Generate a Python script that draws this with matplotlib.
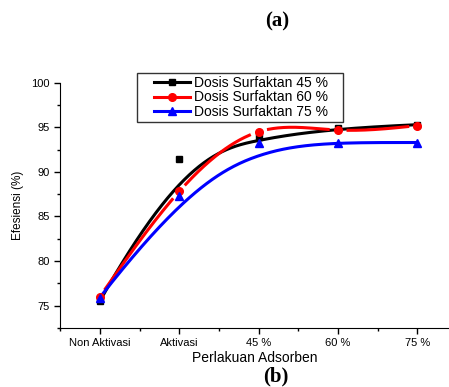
import numpy as np
import matplotlib.pyplot as plt
from matplotlib.ticker import MultipleLocator
from matplotlib.lines import Line2D
from matplotlib.legend_handler import HandlerLine2D

plt.rcParams['font.family'] = ['Liberation Sans', 'DejaVu Sans']

categories = ['Non Aktivasi', 'Aktivasi', '45 %', '60 %', '75 %']
dosis_45 = [75.5, 91.4, 93.9, 94.9, 95.3]
dosis_60 = [76.0, 87.8, 94.5, 94.7, 95.2]
dosis_75 = [75.9, 87.3, 93.3, 93.3, 93.3]
labels = ['Dosis Surfaktan 45 %', 'Dosis Surfaktan 60 %', 'Dosis Surfaktan 75 %']


def bspline(x, y, n=300):
    # clamped cubic B-spline, points act as control points (like Origin)
    p = np.column_stack([x, y]).astype(float)
    k = 3
    m = len(p)
    inner = np.arange(1, m - k) / (m - k)
    t = np.concatenate([[0] * (k + 1), inner, [1] * (k + 1)])
    u = np.linspace(0, 1 - 1e-9, n)
    N = np.zeros((n, len(t) - 1))
    for i in range(len(t) - 1):
        N[:, i] = (u >= t[i]) & (u < t[i + 1])
    for d in range(1, k + 1):
        Nn = np.zeros((n, len(t) - 1 - d))
        for i in range(len(t) - 1 - d):
            a = 0 if t[i + d] == t[i] else (u - t[i]) / (t[i + d] - t[i]) * N[:, i]
            b = 0 if t[i + d + 1] == t[i + 1] else (t[i + d + 1] - u) / (t[i + d + 1] - t[i + 1]) * N[:, i + 1]
            Nn[:, i] = a + b
        N = Nn
    c = N @ p
    c = np.vstack([c, p[-1]])
    return c[:, 0], c[:, 1]


def natural_spline(x, y, n=400):
    x = np.asarray(x, float)
    y = np.asarray(y, float)
    m = len(x)
    h = np.diff(x)
    A = np.zeros((m, m))
    r = np.zeros(m)
    A[0, 0] = A[-1, -1] = 1
    for i in range(1, m - 1):
        A[i, i - 1] = h[i - 1]
        A[i, i] = 2 * (h[i - 1] + h[i])
        A[i, i + 1] = h[i]
        r[i] = 6 * ((y[i + 1] - y[i]) / h[i] - (y[i] - y[i - 1]) / h[i - 1])
    M = np.linalg.solve(A, r)
    xs = np.linspace(x[0], x[-1], n)
    idx = np.clip(np.searchsorted(x, xs) - 1, 0, m - 2)
    x0, x1 = x[idx], x[idx + 1]
    hh = x1 - x0
    ys = (M[idx] * (x1 - xs) ** 3 / (6 * hh) + M[idx + 1] * (xs - x0) ** 3 / (6 * hh)
          + (y[idx] / hh - M[idx] * hh / 6) * (x1 - xs)
          + (y[idx + 1] / hh - M[idx + 1] * hh / 6) * (xs - x0))
    return xs, ys


xpos = np.arange(len(categories))

fig = plt.figure(figsize=(4.49, 3.87), dpi=100)
ax = fig.add_axes([0.134, 0.153, 0.866, 0.633])

bx, by = bspline(xpos, dosis_45)
ax.plot(bx, by, color='black', lw=2.2, zorder=3)
ax.plot(xpos, dosis_45, 's', color='black', ms=5, zorder=4)

# red spline with a gap round each symbol
rx, ry = natural_spline(xpos, dosis_60)
ry = ry.copy()
for xp, yp in zip(xpos, dosis_60):
    d = np.hypot((rx - xp) * 79.2, (ry - yp) * 8.93)
    ry[d < 9.5] = np.nan
ax.plot(rx, ry, color='red', lw=2.2, zorder=3)
ax.plot(xpos, dosis_60, 'o', color='red', ms=5.5, zorder=4)

ux, uy = bspline(xpos, dosis_75)
ax.plot(ux, uy, color='blue', lw=2.2, zorder=3)
ax.plot(xpos, dosis_75, '^', color='blue', ms=5.5, zorder=4)

handles = [Line2D([], [], color='black', lw=2.2, marker='s', ms=5),
           Line2D([], [], color='red', lw=2.2, marker='o', ms=5.5),
           Line2D([], [], color='blue', lw=2.2, marker='^', ms=5.5)]
hmap = {h: HandlerLine2D(xpad=1.0) for h in handles}
leg = ax.legend(handles, [s + '   ' for s in labels], handler_map=hmap,
                loc='upper left', bbox_to_anchor=(0.198, 1.04),
                fontsize=10, frameon=True, fancybox=False, edgecolor='black',
                handlelength=3.6, labelspacing=0.05, borderpad=0.2, handletextpad=0.3,
                borderaxespad=0)
leg.get_frame().set_linewidth(1.0)

ax.set_xlim(-0.5, 4.4)
ax.set_ylim(72.5, 100)
ax.set_xticks(xpos)
ax.set_xticklabels(categories)
ax.xaxis.set_minor_locator(MultipleLocator(0.5))
ax.yaxis.set_major_locator(MultipleLocator(5))
ax.yaxis.set_minor_locator(MultipleLocator(2.5))
ax.tick_params(labelsize=8, direction='out', length=4, width=1)
ax.tick_params(which='minor', direction='out', length=2.5, width=1)
ax.spines['top'].set_visible(False)
ax.spines['right'].set_visible(False)

ax.set_xlabel('Perlakuan Adsorben', fontsize=10, labelpad=2)
ax.set_ylabel('Efesiensi (%)', fontsize=8.5, labelpad=5)

fig.text(0.617, 0.945, '(a)', fontsize=15, fontweight='bold', family='Liberation Serif',
         ha='center', va='center')
fig.text(0.615, 0.028, '(b)', fontsize=15, fontweight='bold', family='Liberation Serif',
         ha='center', va='center')

fig.savefig('out.png', dpi=100)
